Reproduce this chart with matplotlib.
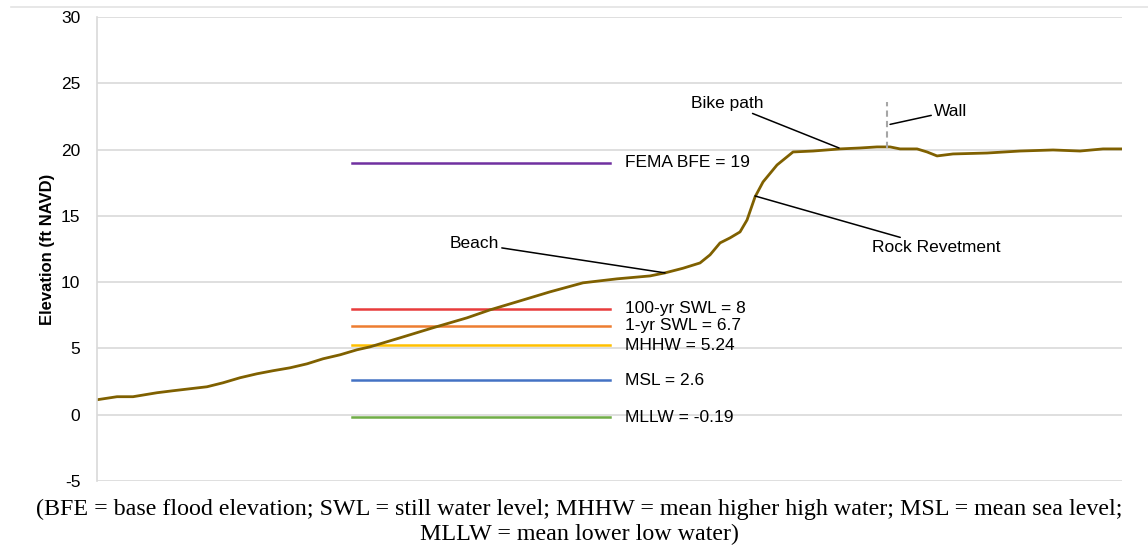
import matplotlib.pyplot as plt
from matplotlib.lines import Line2D

# beach profile (station, elevation ft NAVD)
station = [0, 20, 36, 60, 76, 93, 110, 126, 143, 160, 176, 193, 210, 226, 243, 260, 273,
           280, 303, 336, 370, 393, 420, 453, 486, 520, 553, 568, 586, 603, 613, 623, 633,
           643, 650, 658, 666, 680, 696, 716, 743, 763, 780, 793, 803, 820, 830, 840, 856,
           890, 923, 956, 983, 1006, 1025]
elevation = [1.13, 1.36, 1.36, 1.66, 1.81, 1.96, 2.11, 2.41, 2.79, 3.09, 3.32, 3.54, 3.84,
             4.22, 4.52, 4.90, 5.12, 5.28, 5.80, 6.56, 7.31, 7.91, 8.52, 9.27, 9.95, 10.25,
             10.47, 10.70, 11.05, 11.45, 12.06, 12.96, 13.34, 13.79, 14.69, 16.43, 17.56,
             18.84, 19.82, 19.89, 20.05, 20.12, 20.2, 20.2, 20.05, 20.05, 19.82, 19.52,
             19.67, 19.74, 19.89, 19.97, 19.89, 20.05, 20.05]

# water levels
level_names = ["FEMA BFE = 19", "100-yr SWL = 8", "1-yr SWL = 6.7", "MHHW = 5.24",
               "MSL = 2.6", "MLLW = -0.19"]
level_values = [19, 8, 6.7, 5.24, 2.6, -0.19]
level_colors = ["#7030a0", "#e83c3c", "#ed7d31", "#ffc000", "#4472c4", "#70ad47"]
level_start, level_end = 255, 513

wall_station = 790
wall_bottom, wall_top = 20.1, 23.6

plt.rcParams['font.family'] = ['Liberation Sans', 'DejaVu Sans']
plt.rcParams['axes.unicode_minus'] = False

fig = plt.figure(figsize=(11.48, 5.48), dpi=100)
ax = fig.add_axes([0.0845, 0.1222, 0.8929, 0.8468])

ax.set_ylim(-5, 30)
ax.set_xlim(0, 1025)
ax.set_yticks(range(-5, 31, 5))
ax.set_xticks([])
ax.yaxis.grid(True, color="#d9d9d9", linewidth=1.2)
ax.set_axisbelow(True)
for s in ["top", "right", "bottom"]:
    ax.spines[s].set_visible(False)
ax.spines["left"].set_color("#d9d9d9")
ax.spines["left"].set_linewidth(1.2)
ax.tick_params(axis="y", length=0, labelsize=12.5, colors="#000000", pad=12)
ax.set_ylabel("Elevation (ft NAVD)", fontsize=12, fontweight="bold", labelpad=4)

for name, val, col in zip(level_names, level_values, level_colors):
    ax.plot([level_start, level_end], [val, val], color=col, linewidth=1.8)
    ax.text(level_end + 15, val, name, fontsize=12.5, va="center", ha="left")

ax.plot(station, elevation, color="#7f6000", linewidth=2.0)

ax.plot([wall_station, wall_station], [wall_bottom, wall_top], color="#a6a6a6",
        linewidth=1.5, linestyle=(0, (3, 2)))

arrow = dict(arrowstyle="-", color="black", linewidth=1.1, shrinkA=0, shrinkB=0)
ax.annotate("Bike path", xy=(742, 20.12), xytext=(666, 23.5), fontsize=12.5,
            ha="right", va="center", arrowprops=arrow)
ax.annotate("Wall", xy=(793, 21.9), xytext=(837, 22.9), fontsize=12.5,
            ha="left", va="center", arrowprops=arrow)
ax.annotate("Rock Revetment", xy=(658, 16.5), xytext=(775, 12.6), fontsize=12.5,
            ha="left", va="center", arrowprops=arrow)
ax.annotate("Beach", xy=(568, 10.7), xytext=(402, 12.9), fontsize=12.5,
            ha="right", va="center", arrowprops=arrow)

fig.add_artist(Line2D([0.01, 1.0], [0.987, 0.987], color="#e3e3e3", linewidth=1.2,
                      transform=fig.transFigure))

fig.text(0.505, 0.071, "(BFE = base flood elevation; SWL = still water level; MHHW = mean higher "
         "high water; MSL = mean sea level;", fontsize=17.3, family="Liberation Serif",
         ha="center", va="center")
fig.text(0.505, 0.025, "MLLW = mean lower low water)", fontsize=17.3, family="Liberation Serif",
         ha="center", va="center")

fig.savefig("out.png", dpi=100)
